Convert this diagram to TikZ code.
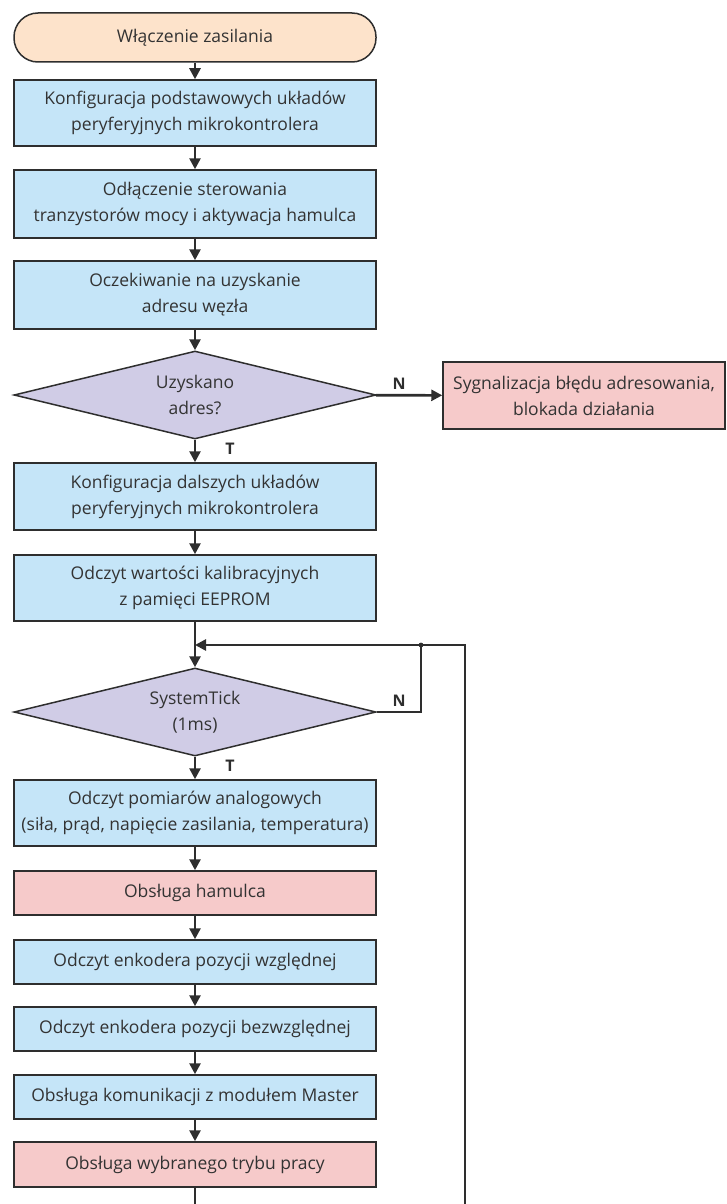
\documentclass[tikz,border=0pt]{standalone}
\usepackage{fontspec}
\setmainfont{Open Sans}
\usetikzlibrary{arrows.meta,shapes.geometric}
\definecolor{linec}{HTML}{2E2E2E}
\definecolor{txtc}{HTML}{333333}
\definecolor{blueF}{HTML}{C5E5F8}
\definecolor{pinkF}{HTML}{F6CACA}
\definecolor{purpF}{HTML}{D0CCE6}
\definecolor{peachF}{HTML}{FDE3CB}
\begin{document}
\begin{tikzpicture}[x=1pt,y=-1pt,
  base/.style={draw=linec, line width=1.5pt, text=txtc, inner sep=0pt, align=center,
    font=\fontsize{17.5}{26}\selectfont},
  proc/.style={base, rectangle, fill=blueF, minimum width=362pt},
  alert/.style={base, rectangle, fill=pinkF, minimum width=362pt},
  term/.style={base, rectangle, rounded corners=24pt, fill=peachF, minimum width=362pt, minimum height=49pt},
  decision/.style={base, diamond, fill=purpF, aspect=4.1, minimum width=362pt, minimum height=88pt},
  conn/.style={draw=linec, line width=2.6pt},
  arr/.style={conn, -{Triangle[length=11pt,width=11pt]}},
  lbl/.style={text=linec, font=\bfseries\fontsize{16}{18}\selectfont, inner sep=0pt}
]
\useasboundingbox (0,0) rectangle (726,1204);

% main column
\node[term] (start) at (195,37.5) {Włączenie zasilania};
\node[proc, minimum height=66pt] (cfgA) at (195,113) {Konfiguracja podstawowych układów\\peryferyjnych mikrokontrolera};
\node[proc, minimum height=68pt] (brake) at (195,204) {Odłączenie sterowania\\tranzystorów mocy i aktywacja hamulca};
\node[proc, minimum height=68pt] (wait) at (195,295) {Oczekiwanie na uzyskanie\\adresu węzła};
\node[decision] (addr) at (195,395) {Uzyskano\\adres?};
\node[alert, minimum width=282pt, minimum height=67pt] (err) at (584,395.5) {Sygnalizacja błędu adresowania,\\blokada działania};
\node[proc, minimum height=67pt] (cfgB) at (195,496.5) {Konfiguracja dalszych układów\\peryferyjnych mikrokontrolera};
\node[proc, minimum height=66pt] (calib) at (195,588) {Odczyt wartości kalibracyjnych\\z pamięci EEPROM};
\node[decision] (tick) at (195,712) {SystemTick\\(1ms)};
\node[proc, minimum height=66pt] (meas) at (195,813) {Odczyt pomiarów analogowych\\(siła, prąd, napięcie zasilania, temperatura)};
\node[alert, minimum height=44pt] (hbrk) at (195,893) {Obsługa hamulca};
\node[proc, minimum height=44pt] (encR) at (195,962) {Odczyt enkodera pozycji względnej};
\node[proc, minimum height=44pt] (encA) at (195,1029) {Odczyt enkodera pozycji bezwzględnej};
\node[proc, minimum height=44pt] (comm) at (195,1097) {Obsługa komunikacji z modułem Master};
\node[alert, minimum height=45pt] (mode) at (195,1164.5) {Obsługa wybranego trybu pracy};

% loop coordinates
\coordinate (join) at (195,645);
\coordinate (loopR) at (465,645);
\coordinate (dot) at (421,645);
\coordinate (botL) at (195,1204);
\coordinate (botR) at (465,1204);

% connectors
\draw[arr] (start) -- (cfgA);
\draw[arr] (cfgA) -- (brake);
\draw[arr] (brake) -- (wait);
\draw[arr] (wait) -- (addr);
\draw[arr] (addr) -- (cfgB);
\draw[arr] (addr) -- (err);
\draw[arr] (cfgB) -- (calib);
\draw[arr] (calib) -- (tick);
\draw[conn] (tick.east) -| (dot);
\draw[arr] (botR) -- (loopR) -- (join);
\fill[linec] (dot) circle (2.4pt);
\draw[arr] (tick) -- (meas);
\draw[arr] (meas) -- (hbrk);
\draw[arr] (hbrk) -- (encR);
\draw[arr] (encR) -- (encA);
\draw[arr] (encA) -- (comm);
\draw[arr] (comm) -- (mode);
\draw[conn] (mode) -- (botL);

% branch labels
\node[lbl] (nA) at (399,384) {N};
\node[lbl] (tA) at (230,449) {T};
\node[lbl] (nB) at (399,701) {N};
\node[lbl] (tB) at (230,766) {T};
\end{tikzpicture}
\end{document}
